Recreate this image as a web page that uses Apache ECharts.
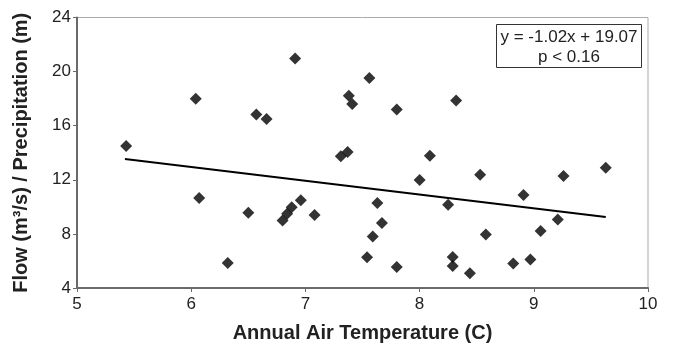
<!DOCTYPE html>
<html>
<head>
<meta charset="utf-8">
<script src="https://cdn.jsdelivr.net/npm/echarts@6/dist/echarts.min.js"></script>
<style>
html,body{margin:0;padding:0;background:#fff;}
#chart{width:673px;height:348px;}
</style>
</head>
<body>
<div id="chart"></div>
<script>
var tempX = [5.43, 6.04, 6.07, 6.32, 6.50, 6.57, 6.66, 6.80, 6.84, 6.88, 6.91, 6.96, 7.08, 7.31, 7.37, 7.38, 7.41, 7.54, 7.56, 7.59, 7.63, 7.67, 7.80, 7.80, 8.00, 8.09, 8.25, 8.29, 8.29, 8.32, 8.44, 8.53, 8.58, 8.82, 8.91, 8.97, 9.06, 9.21, 9.26, 9.63];
var flowY = [14.5, 18.0, 10.65, 5.84, 9.56, 16.83, 16.49, 9.0, 9.49, 9.97, 20.96, 10.48, 9.4, 13.75, 14.05, 18.22, 17.6, 6.27, 19.53, 7.8, 10.29, 8.81, 17.19, 5.55, 11.98, 13.78, 10.15, 6.3, 5.62, 17.86, 5.09, 12.38, 7.96, 5.81, 10.87, 6.1, 8.21, 9.06, 12.28, 12.9];
var trendX = [5.42, 9.63];
var trendY = [13.54, 9.25];
var xTicks = [5, 6, 7, 8, 9, 10];
var yTicks = [4, 8, 12, 16, 20, 24];
var equationLines = ['y = -1.02x + 19.07', 'p < 0.16'];

var chart = echarts.init(document.getElementById('chart'));
var font = 'Liberation Sans, Arial, sans-serif';
chart.setOption({
  animation: false,
  grid: { left: 77, right: 25, top: 17.5, bottom: 55, show: true, borderColor: '#aaaaaa', borderWidth: 1 },
  xAxis: {
    type: 'value', min: xTicks[0], max: xTicks[xTicks.length - 1], interval: 1,
    name: 'Annual Air Temperature (C)', nameLocation: 'middle', nameGap: 35,
    nameTextStyle: { fontFamily: font, fontSize: 20, fontWeight: 'bold', color: '#222' },
    axisLine: { lineStyle: { color: '#6a6a6a', width: 2 } },
    axisTick: { show: true, length: 4, lineStyle: { color: '#6a6a6a' } },
    axisLabel: { fontFamily: font, fontSize: 17, color: '#222', margin: 8 },
    splitLine: { show: false }
  },
  yAxis: {
    type: 'value', min: yTicks[0], max: yTicks[yTicks.length - 1], interval: 4,
    name: 'Flow (m³/s) / Precipitation (m)', nameLocation: 'middle', nameGap: 46,
    nameTextStyle: { fontFamily: font, fontSize: 20, fontWeight: 'bold', color: '#222' },
    axisLine: { lineStyle: { color: '#6a6a6a', width: 2 } },
    axisTick: { show: true, length: 4, lineStyle: { color: '#6a6a6a' } },
    axisLabel: { fontFamily: font, fontSize: 17, color: '#222', margin: 6 },
    splitLine: { show: false }
  },
  series: [
    {
      type: 'line', data: trendX.map(function (x, i) { return [x, trendY[i]]; }),
      symbol: 'none', lineStyle: { color: '#000', width: 2 }, z: 2
    },
    {
      type: 'scatter', data: tempX.map(function (x, i) { return [x, flowY[i]]; }),
      symbol: 'diamond', symbolSize: 12, itemStyle: { color: '#000' }, z: 3
    }
  ],
  graphic: [
    { type: 'rect', shape: { x: 496.5, y: 24.5, width: 145, height: 43 },
      style: { fill: '#fff', stroke: '#333', lineWidth: 1 }, z: 10 },
    { type: 'text', x: 569, y: 37, style: { text: equationLines[0], font: '17px ' + font, fill: '#222', textAlign: 'center', textVerticalAlign: 'middle' }, z: 11 },
    { type: 'text', x: 569, y: 57, style: { text: equationLines[1], font: '17px ' + font, fill: '#222', textAlign: 'center', textVerticalAlign: 'middle' }, z: 11 }
  ]
});
</script>
</body>
</html>
